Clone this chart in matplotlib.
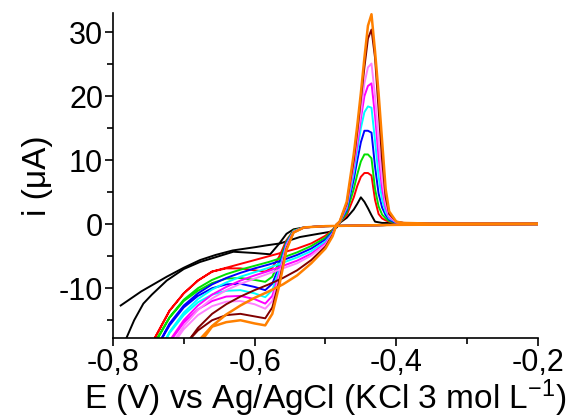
import numpy as np
import matplotlib
matplotlib.use("Agg")
import matplotlib.pyplot as plt

plt.rcParams['font.family'] = ['Liberation Sans', 'DejaVu Sans']
plt.rcParams['mathtext.fontset'] = 'custom'
plt.rcParams['mathtext.rm'] = 'Liberation Sans'
plt.rcParams['mathtext.it'] = 'Liberation Sans:italic'

# potential grids (V)
E_fwd = [-0.20, -0.40, -0.50, -0.53, -0.545, -0.555, -0.565, -0.575, -0.585,
         -0.60, -0.62, -0.64, -0.66, -0.68, -0.70, -0.72, -0.74, -0.76]
E_rev = [-0.76, -0.74, -0.72, -0.70, -0.68, -0.66, -0.64, -0.62, -0.60,
         -0.58, -0.56, -0.54, -0.52, -0.50, -0.49, -0.484]
E_pk = [-0.48, -0.47, -0.46, -0.455, -0.45, -0.445, -0.44, -0.435, -0.43,
        -0.425, -0.42, -0.415, -0.41, -0.40, -0.39, -0.35, -0.30, -0.25, -0.20]

# black curve has its own sampling
E_black_fwd = [-0.20, -0.40, -0.50, -0.53, -0.545, -0.555, -0.565, -0.578, -0.60,
               -0.63, -0.677, -0.70, -0.724, -0.745, -0.757, -0.77, -0.781, -0.79]
i_black_fwd = [0.0, -0.1, -0.3, -0.5, -0.8, -1.5, -3.0, -4.7, -4.5,
               -4.3, -5.9, -7.0, -8.8, -11.0, -12.4, -15.0, -17.8, -20.5]
E_black_rev = [-0.789, -0.76, -0.724, -0.70, -0.677, -0.655, -0.631, -0.60,
               -0.583, -0.564, -0.536, -0.51, -0.494, -0.484]
i_black_rev = [-12.7, -10.5, -8.2, -6.8, -5.6, -4.8, -4.1, -3.6,
               -3.3, -3.0, -2.0, -1.5, -1.2, -0.5]
i_black_pk = [0.2, 1.0, 2.3, 3.2, 4.2, 3.5, 2.5, 1.4, 0.4,
              0.3, 0.2, 0.2, 0.2, 0.1, 0.1, 0.1, 0.1, 0.1, 0.1]

colors = ['#FF0000', '#00E000', '#0000FF', '#00FFFF', '#FF00FF',
          '#FF80FF', '#800000', '#FF8000']

i_fwd = [
    [0.0, -0.1, -0.3, -0.5, -1.0, -2.5, -5.0, -6.8, -7.4, -7.2, -6.9, -6.9, -7.4, -8.8, -10.8, -13.5, -17.6, -23.0],
    [0.0, -0.1, -0.3, -0.5, -1.0, -2.7, -5.8, -8.2, -9.0, -8.7, -8.4, -8.5, -9.2, -10.4, -12.0, -14.6, -18.5, -24.0],
    [0.0, -0.1, -0.3, -0.5, -1.1, -2.9, -6.5, -9.3, -10.3, -9.8, -9.3, -9.4, -10.0, -11.2, -13.0, -15.8, -19.6, -25.0],
    [0.0, -0.1, -0.3, -0.5, -1.1, -3.1, -7.0, -10.3, -11.4, -10.8, -10.3, -10.4, -11.0, -12.2, -14.2, -17.0, -21.0, -26.0],
    [0.0, -0.1, -0.3, -0.5, -1.2, -3.3, -7.6, -11.2, -12.4, -11.7, -11.2, -11.3, -12.0, -13.3, -15.4, -18.4, -22.5, -27.5],
    [0.0, -0.1, -0.3, -0.5, -1.2, -3.5, -8.0, -12.0, -13.2, -12.5, -12.0, -12.1, -12.8, -14.2, -16.4, -19.5, -23.5, -28.5],
    [0.0, -0.1, -0.3, -0.5, -1.3, -3.8, -8.8, -13.0, -14.7, -14.4, -14.0, -14.2, -15.0, -16.6, -19.0, -22.5, -26.5, -31.0],
    [0.0, -0.1, -0.3, -0.5, -1.3, -4.0, -9.5, -14.0, -15.8, -15.5, -15.0, -15.3, -16.0, -19.0, -22.5, -26.5, -31.0, -35.0],
]
i_rev = [
    [-23.0, -17.6, -13.5, -10.8, -8.8, -7.4, -6.8, -6.2, -5.6, -5.0, -4.4, -3.8, -3.0, -1.8, -0.9, 0.0],
    [-24.0, -18.3, -14.5, -11.8, -10.0, -8.7, -7.8, -7.1, -6.5, -5.9, -5.2, -4.4, -3.4, -2.1, -1.0, 0.0],
    [-25.0, -19.6, -15.5, -12.7, -10.8, -9.4, -8.4, -7.6, -6.9, -6.3, -5.6, -4.8, -3.8, -2.4, -1.2, 0.0],
    [-26.0, -21.0, -16.8, -13.8, -11.7, -10.2, -9.1, -8.2, -7.5, -6.8, -6.0, -5.2, -4.2, -2.7, -1.4, 0.0],
    [-27.5, -22.5, -18.2, -15.0, -12.7, -11.0, -9.8, -8.8, -8.0, -7.3, -6.5, -5.7, -4.6, -3.0, -1.5, 0.0],
    [-28.5, -23.5, -19.2, -15.9, -13.4, -11.6, -10.3, -9.3, -8.5, -7.7, -6.9, -6.1, -4.9, -3.2, -1.6, 0.0],
    [-31.0, -27.5, -23.0, -19.2, -16.2, -14.0, -12.5, -11.3, -10.3, -9.4, -8.4, -7.2, -5.6, -3.5, -1.7, 0.0],
    [-35.0, -30.0, -25.5, -21.5, -18.3, -15.9, -14.1, -12.7, -11.5, -10.5, -9.4, -8.0, -6.1, -3.8, -1.9, 0.0],
]
i_pk = [
    [0.2, 1.4, 4.2, 6.0, 7.4, 8.0, 8.0, 7.6, 3.8, 1.6, 0.9, 0.6, 0.4, 0.2, 0.1, 0.1, 0.1, 0.1, 0.1],
    [0.2, 1.8, 5.5, 7.8, 9.8, 10.9, 10.9, 10.3, 5.5, 2.8, 1.5, 0.9, 0.5, 0.2, 0.1, 0.1, 0.1, 0.1, 0.1],
    [0.3, 2.2, 7.0, 10.0, 12.8, 14.6, 14.6, 14.3, 9.0, 4.8, 2.6, 1.4, 0.7, 0.2, 0.1, 0.1, 0.1, 0.1, 0.1],
    [0.3, 2.5, 8.0, 11.5, 15.0, 17.5, 18.4, 18.2, 13.0, 7.5, 3.8, 1.9, 0.9, 0.3, 0.2, 0.1, 0.1, 0.1, 0.1],
    [0.3, 2.8, 9.0, 12.5, 16.5, 20.0, 21.6, 22.0, 17.0, 10.5, 5.5, 2.6, 1.1, 0.3, 0.2, 0.1, 0.1, 0.1, 0.1],
    [0.4, 3.0, 9.5, 13.5, 17.5, 22.0, 24.5, 25.1, 20.0, 13.0, 7.0, 3.2, 1.3, 0.3, 0.2, 0.1, 0.1, 0.1, 0.1],
    [0.4, 3.2, 10.0, 14.5, 19.5, 24.5, 29.0, 30.4, 26.0, 18.0, 10.0, 4.2, 1.6, 0.4, 0.2, 0.1, 0.1, 0.1, 0.1],
    [0.4, 3.5, 11.0, 15.5, 20.5, 26.0, 31.0, 32.8, 27.0, 20.5, 13.0, 5.5, 2.0, 0.4, 0.2, 0.1, 0.1, 0.1, 0.1],
]

fig = plt.figure(figsize=(5.76, 4.18), dpi=100)
ax = fig.add_axes([0.196, 0.191, 0.738, 0.778])

# black curve
ax.plot(E_black_fwd, i_black_fwd, color='black', lw=1.4)
ax.plot(E_black_rev + E_pk, i_black_rev + i_black_pk, color='black', lw=1.4)

for k in range(len(colors)):
    E = E_fwd + E_rev + E_pk
    cur = i_fwd[k] + i_rev[k] + i_pk[k]
    ax.plot(E, cur, color=colors[k], lw=1.4 if k < 7 else 1.8)

ax.set_xlim(-0.8, -0.2)
ax.set_ylim(-17.8, 33)
ax.set_xticks([-0.8, -0.6, -0.4, -0.2])
ax.set_xticklabels(['-0,8', '-0,6', '-0,4', '-0,2'])
ax.set_xticks([-0.7, -0.5, -0.3], minor=True)
ax.set_yticks([-10, 0, 10, 20, 30])
ax.set_yticklabels(['-10', '0', '10', '20', '30'])
ax.set_yticks([-15, -5, 5, 15, 25], minor=True)

for s in ['top', 'right']:
    ax.spines[s].set_visible(False)
for s in ['left', 'bottom']:
    ax.spines[s].set_linewidth(1.2)

ax.tick_params(which='major', direction='out', length=6, width=1.2, labelsize=22, pad=1)
ax.tick_params(which='minor', direction='out', length=4, width=1.2)

ax.set_xlabel('E (V) vs Ag/AgCl (KCl 3 mol L$^{-1}$)', fontsize=24, labelpad=0)
ax.set_ylabel('i (\u03bcA)', fontsize=24, labelpad=4)

plt.savefig('out.png', dpi=100)
